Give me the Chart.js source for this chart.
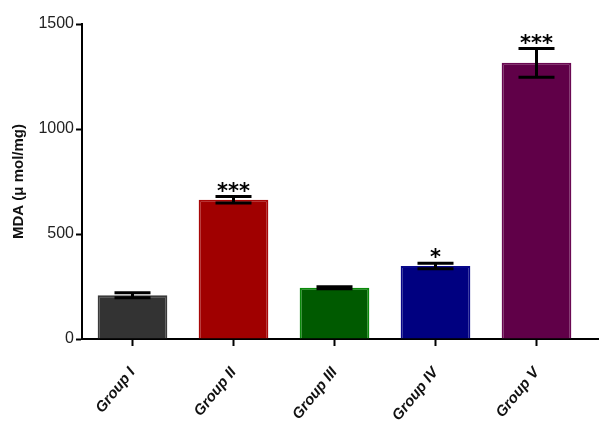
<!DOCTYPE html>
<html>
<head>
<meta charset="utf-8">
<script src="https://cdn.jsdelivr.net/npm/chart.js@4"></script>
<style>
  html, body { margin: 0; padding: 0; background: #fff; }
  canvas { display: block; }
</style>
</head>
<body>
<canvas id="chart" width="599" height="426"></canvas>
<script>
const groups = ['Group I', 'Group II', 'Group III', 'Group IV', 'Group V'];
const mda = [208, 663, 244, 348, 1315];
const sem = [12, 15, 5, 13, 68];
const stars = ['', '***', '', '*', '***'];
const fills = ['#333333', '#a00000', '#005a00', '#000080', '#600048'];
const edges = ['#3a3a3a', '#a80808', '#0a8a0a', '#08088a', '#6a0852'];

const errorBars = {
  id: 'errorBars',
  afterDatasetsDraw(chart) {
    const {ctx, scales: {y}} = chart;
    const bars = chart.getDatasetMeta(0).data;
    ctx.save();
    ctx.strokeStyle = '#000';
    ctx.lineWidth = 3;
    bars.forEach((bar, i) => {
      const hi = y.getPixelForValue(mda[i] + sem[i]);
      const lo = y.getPixelForValue(mda[i] - sem[i]);
      ctx.beginPath();
      ctx.moveTo(bar.x, hi);
      ctx.lineTo(bar.x, lo);
      ctx.moveTo(bar.x - 18, hi);
      ctx.lineTo(bar.x + 18, hi);
      ctx.moveTo(bar.x - 18, lo);
      ctx.lineTo(bar.x + 18, lo);
      ctx.stroke();
      if (stars[i]) {
        ctx.fillStyle = '#000';
        ctx.font = 'bold 21px "DejaVu Sans", sans-serif';
        ctx.textAlign = 'center';
        ctx.textBaseline = 'alphabetic';
        ctx.fillText(stars[i], bar.x, hi + 1);
      }
    });
    ctx.restore();
  }
};

// the x axis line runs on to the right edge of the figure
const axisTail = {
  id: 'axisTail',
  afterDraw(chart) {
    const {ctx, chartArea} = chart;
    ctx.save();
    ctx.strokeStyle = '#000';
    ctx.lineWidth = 2;
    ctx.beginPath();
    ctx.moveTo(chartArea.right - 1, chartArea.bottom);
    ctx.lineTo(chart.width, chartArea.bottom);
    ctx.stroke();
    ctx.restore();
  }
};

new Chart(document.getElementById('chart'), {
  type: 'bar',
  data: {
    labels: groups,
    datasets: [{
      data: mda,
      backgroundColor: fills,
      borderColor: edges,
      borderWidth: 2,
      barPercentage: 0.69,
      categoryPercentage: 1
    }]
  },
  options: {
    responsive: false,
    animation: false,
    layout: {padding: {top: 24, right: 12, left: 0, bottom: 0}},
    plugins: {
      legend: false,
      tooltip: false
    },
    scales: {
      x: {
        afterFit: s => { s.height = 87; },
        grid: {
          offset: false,
          drawOnChartArea: false,
          tickLength: 7,
          tickWidth: 2,
          tickColor: '#000'
        },
        border: {color: '#000', width: 2},
        ticks: {
          minRotation: 51,
          maxRotation: 51,
          padding: 18,
          color: '#111',
          font: {family: '"Liberation Sans", Arial, sans-serif', size: 15, style: 'italic', weight: 'bold'}
        }
      },
      y: {
        min: 0,
        max: 1500,
        afterFit: s => { s.width = 82; },
        grid: {
          drawOnChartArea: false,
          tickLength: 6,
          tickWidth: 2,
          tickColor: '#000'
        },
        border: {color: '#000', width: 2},
        ticks: {
          stepSize: 500,
          padding: 2,
          color: '#222',
          font: {family: '"Liberation Sans", Arial, sans-serif', size: 16},
          callback: v => String(v)
        },
        title: {
          display: true,
          text: 'MDA (μ mol/mg)',
          color: '#111',
          padding: {top: 10, bottom: 0},
          font: {family: '"Liberation Sans", Arial, sans-serif', size: 15, weight: 'bold'}
        }
      }
    }
  },
  plugins: [errorBars, axisTail]
});
</script>
</body>
</html>
